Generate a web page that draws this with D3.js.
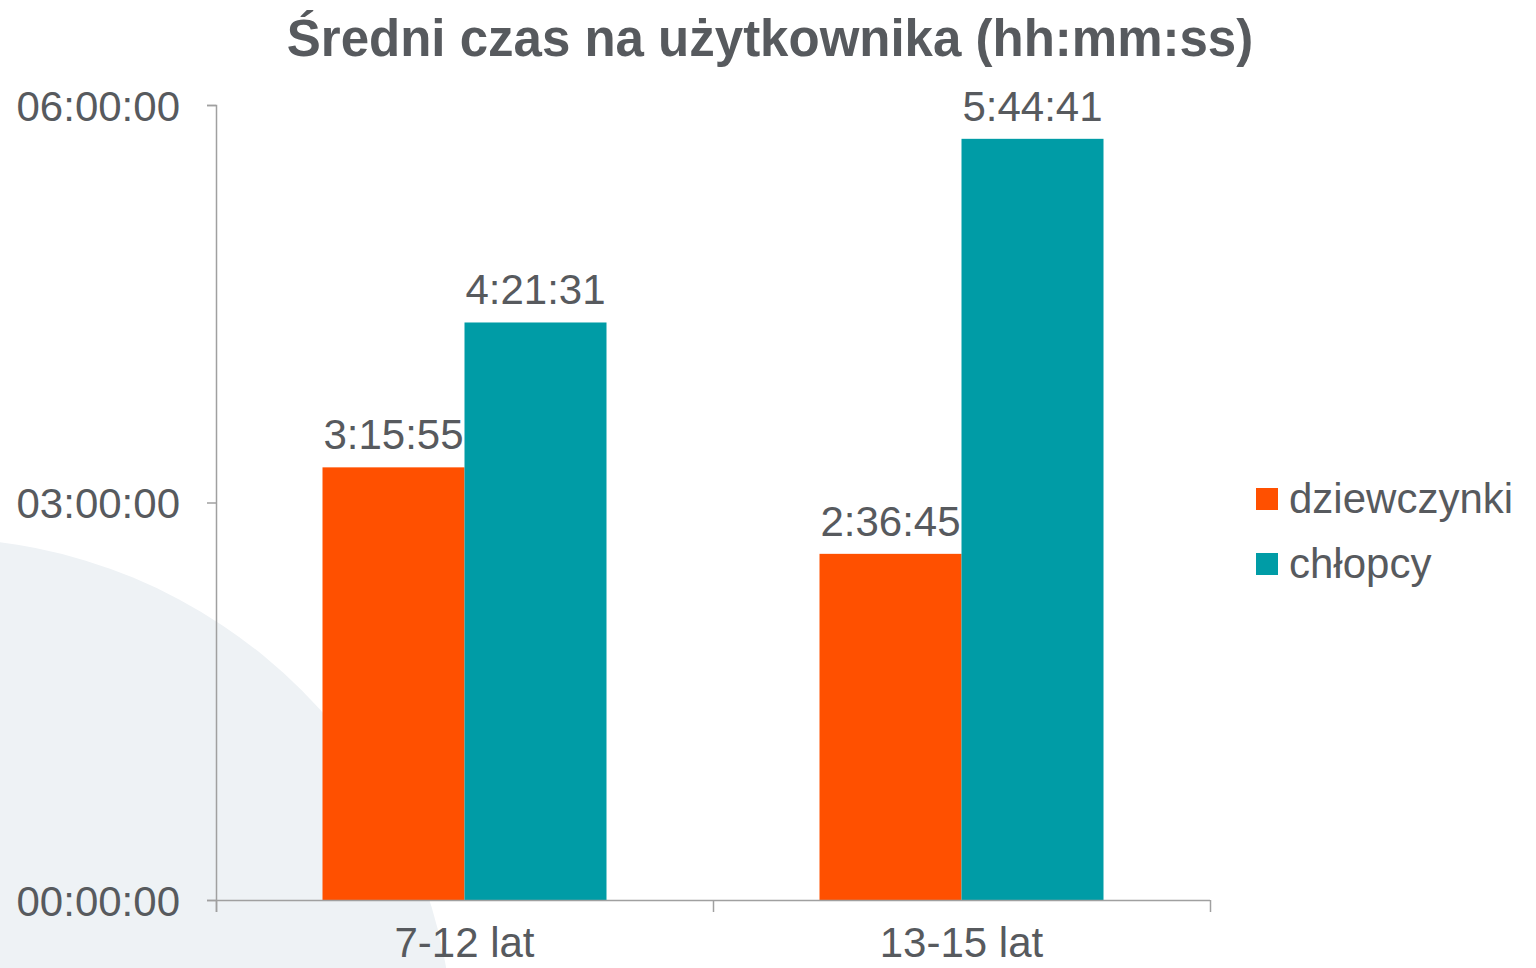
<!DOCTYPE html>
<html>
<head>
<meta charset="utf-8">
<script src="https://cdn.jsdelivr.net/npm/d3@7"></script>
<style>
  html, body { margin: 0; padding: 0; background: #fff; }
  svg { display: block; font-family: "Liberation Sans", Arial, sans-serif; }
</style>
</head>
<body>
<div id="chart"></div>
<script>
const categories = ["7-12 lat", "13-15 lat"];
const seriesNames = ["dziewczynki", "chłopcy"];
const girls = ["3:15:55", "2:36:45"];
const boys = ["4:21:31", "5:44:41"];
const yTicks = ["00:00:00", "03:00:00", "06:00:00"];
const colors = ["#ff5000", "#009ca6"];

const W = 1536, H = 968;
const textColor = "#575a5e";
const axisColor = "#a0a0a0";

function toSec(s) {
  const p = s.split(":").map(Number);
  return p[0] * 3600 + p[1] * 60 + p[2];
}

const data = categories.map((c, i) => ({
  cat: c,
  values: [
    { name: seriesNames[0], label: girls[i], v: toSec(girls[i]) },
    { name: seriesNames[1], label: boys[i], v: toSec(boys[i]) }
  ]
}));

const svg = d3.select("#chart").append("svg")
  .attr("width", W)
  .attr("height", H);

// light background disc, bottom-left
svg.append("circle")
  .attr("cx", -66)
  .attr("cy", 1058)
  .attr("r", 520)
  .attr("fill", "#eef2f5");

const x0 = d3.scaleBand().domain(categories).range([216, 1210]).padding(0);
const x1 = d3.scaleBand().domain(seriesNames).range([0, x0.bandwidth()])
  .paddingInner(0).paddingOuter(0.75);
const y = d3.scaleLinear().domain([0, 6 * 3600]).range([900, 105]);
const color = d3.scaleOrdinal().domain(seriesNames).range(colors);

// title
svg.append("text")
  .attr("x", 770)
  .attr("y", 56)
  .attr("text-anchor", "middle")
  .attr("font-size", 51)
  .attr("font-weight", "bold")
  .attr("fill", textColor)
  .text("Średni czas na użytkownika (hh:mm:ss)");

// bars
const groups = svg.selectAll("g.cat")
  .data(data)
  .enter().append("g")
  .attr("class", "cat")
  .attr("transform", d => "translate(" + x0(d.cat) + ",0)");

groups.selectAll("rect")
  .data(d => d.values)
  .enter().append("rect")
  .attr("x", d => x1(d.name))
  .attr("y", d => y(d.v))
  .attr("width", x1.bandwidth())
  .attr("height", d => y(0) - y(d.v))
  .attr("fill", d => color(d.name));

groups.selectAll("text")
  .data(d => d.values)
  .enter().append("text")
  .attr("x", d => x1(d.name) + x1.bandwidth() / 2)
  .attr("y", d => y(d.v) - 18)
  .attr("text-anchor", "middle")
  .attr("font-size", 42)
  .attr("fill", textColor)
  .text(d => d.label);

// y axis
const yAxis = d3.axisLeft(y)
  .tickValues(yTicks.map(toSec))
  .tickFormat((d, i) => yTicks[i])
  .tickSize(9)
  .tickPadding(27);

const gy = svg.append("g")
  .attr("transform", "translate(216,0)")
  .call(yAxis);
gy.select(".domain").attr("stroke", axisColor).attr("stroke-width", 1.5)
  .attr("d", "M-9,105.5H0.5V912");
gy.selectAll(".tick line").attr("stroke", axisColor).attr("stroke-width", 1.5);
gy.selectAll(".tick text")
  .attr("font-size", 42)
  .attr("font-family", "Liberation Sans, Arial, sans-serif")
  .attr("fill", textColor)
  .attr("dy", "0.36em");

// x axis
const gx = svg.append("g")
  .attr("transform", "translate(0,900)");
gx.append("line")
  .attr("x1", 207).attr("x2", 1210)
  .attr("y1", 0.5).attr("y2", 0.5)
  .attr("stroke", axisColor).attr("stroke-width", 1.5);
const bounds = categories.map(c => x0(c)).concat([x0.range()[1]]);
gx.selectAll("line.tk")
  .data(bounds)
  .enter().append("line")
  .attr("class", "tk")
  .attr("x1", d => d + 0.5).attr("x2", d => d + 0.5)
  .attr("y1", 0).attr("y2", 12)
  .attr("stroke", axisColor).attr("stroke-width", 1.5);
gx.selectAll("text")
  .data(categories)
  .enter().append("text")
  .attr("x", d => x0(d) + x0.bandwidth() / 2)
  .attr("y", 57)
  .attr("text-anchor", "middle")
  .attr("font-size", 42)
  .attr("fill", textColor)
  .text(d => d);

// legend
const legend = svg.append("g")
  .attr("transform", "translate(1256,488)");
const li = legend.selectAll("g")
  .data(seriesNames)
  .enter().append("g")
  .attr("transform", (d, i) => "translate(0," + i * 65 + ")");
li.append("rect")
  .attr("width", 22).attr("height", 22)
  .attr("fill", d => color(d));
li.append("text")
  .attr("x", 33)
  .attr("y", 25)
  .attr("font-size", 42)
  .attr("fill", textColor)
  .text(d => d);
</script>
</body>
</html>
